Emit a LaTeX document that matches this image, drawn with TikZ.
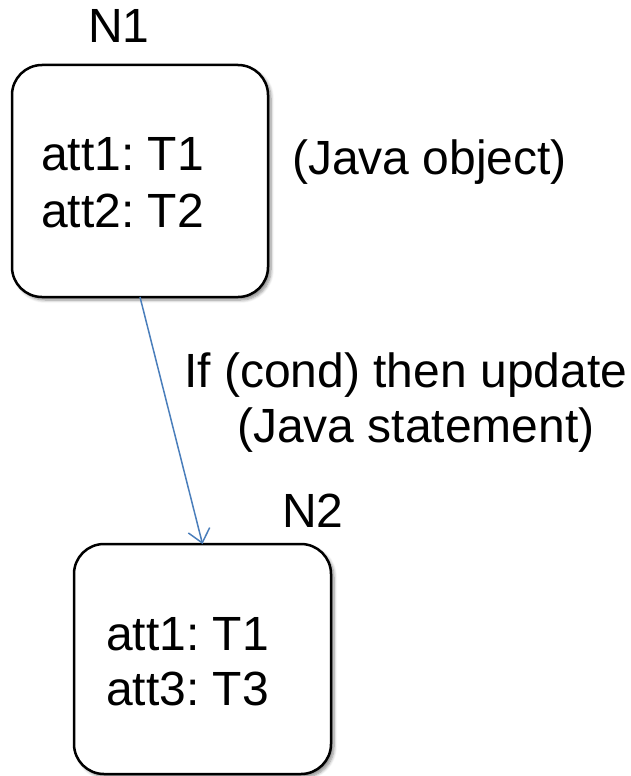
\documentclass[tikz,border=0pt]{standalone}
\usepackage{fontspec}
\setmainfont{Liberation Sans}
\frenchspacing
\usetikzlibrary{arrows.meta,shadows.blur}
\definecolor{linkblue}{HTML}{4A7EBB}
\tikzset{
  objbox/.style={draw=black, line width=2.5pt, rounded corners=30pt, fill=white,
    inner sep=0pt, outer sep=0pt,
    blur shadow={shadow xshift=3pt, shadow yshift=-3pt, shadow blur radius=3pt,
      shadow blur steps=6, shadow opacity=45}},
  txt/.style={anchor=base west, inner sep=0pt, font=\fontsize{48}{57}\selectfont},
  link/.style={draw=linkblue, line width=1.5pt,
    -{Straight Barb[length=13pt, width=22pt, line width=1.5pt]}}
}
\begin{document}
\begin{tikzpicture}[x=1pt, y=-1pt]
  \useasboundingbox (0,0) rectangle (631,776);
  % the two objects
  \node[objbox, minimum width=256pt, minimum height=232pt] (n1) at (140,181) {};
  \node[objbox, minimum width=257pt, minimum height=230pt] (n2) at (202.5,659) {};
  % names
  \node[txt] (n1name) at (88,43) {N1};
  \node[txt] (n2name) at (282,527) {N2};
  % attributes
  \node[txt] (n1a) at (41,170) {att1: T1};
  \node[txt] (n1b) at (41,227) {att2: T2};
  \node[txt] (n2a) at (106,650) {att1: T1};
  \node[txt] (n2b) at (106,705) {att3: T3};
  % annotations
  \node[txt] (kind) at (292,174) {(Java object)};
  \node[txt] (cond) at (184,387) {If (cond) then update};
  \node[txt] (stmt) at (237,442) {(Java statement)};
  % transition
  \draw[link] (n1.south) -- (n2.north);
\end{tikzpicture}
\end{document}
